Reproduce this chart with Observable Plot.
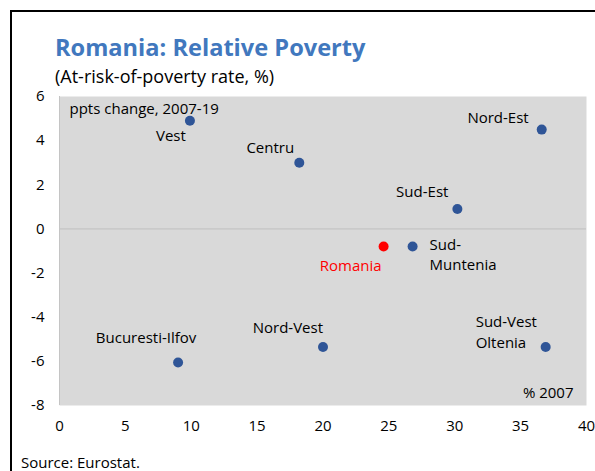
<!DOCTYPE html>
<html>
<head>
<meta charset="utf-8">
<script src="https://cdn.jsdelivr.net/npm/d3@7"></script>
<script src="https://cdn.jsdelivr.net/npm/@observablehq/plot@0.6"></script>
<style>
  html, body { margin: 0; padding: 0; background: #fff; }
  #wrap { position: relative; width: 595px; height: 471px; overflow: hidden; font-family: "Open Sans", sans-serif; }
  #wrap > div { line-height: 1; }
  #frameL { position: absolute; left: 10px; top: 10px; width: 2px; height: 461px; background: #000; }
  #frameT { position: absolute; left: 10px; top: 10px; width: 585px; height: 2px; background: #000; }
  #title { position: absolute; left: 55px; top: 36px; font-size: 23.6px; font-weight: bold; color: #4178be; white-space: nowrap; }
  #subtitle { position: absolute; left: 55px; top: 67px; font-size: 18px; color: #000; white-space: nowrap; }
  #chart { position: absolute; left: 0; top: 86px; }
  #source { position: absolute; left: 21px; top: 455px; font-size: 15px; color: #000; white-space: nowrap; }
</style>
</head>
<body>
<div id="wrap">
  <div id="frameL"></div>
  <div id="frameT"></div>
  <div id="title">Romania: Relative Poverty</div>
  <div id="subtitle">(At-risk-of-poverty rate, %)</div>
  <div id="chart"></div>
  <div id="source">Source: Eurostat.</div>
</div>
<script>
// Data
const regions = ["Vest", "Centru", "Nord-Est", "Sud-Est", "Sud-Muntenia", "Romania", "Nord-Vest", "Sud-Vest Oltenia", "Bucuresti-Ilfov"];
const labels = ["Vest", "Centru", "Nord-Est", "Sud-Est", "Sud-\nMuntenia", "Romania", "Nord-Vest", "Sud-Vest\nOltenia", "Bucuresti-Ilfov"];
const rate2007 = [9.9, 18.2, 36.6, 30.2, 26.8, 24.6, 20.0, 36.9, 9.0];
const change0719 = [4.9, 3.0, 4.5, 0.9, -0.8, -0.8, -5.35, -5.35, -6.05];
const xTicks = [0, 5, 10, 15, 20, 25, 30, 35, 40];
const yTicks = [-8, -6, -4, -2, 0, 2, 4, 6];
const yNote = "ppts change, 2007-19";
const xNote = "% 2007";

const points = regions.map((r, i) => ({region: r, label: labels[i], x: rate2007[i], y: change0719[i]}));

// label placement (style, not data)
const place = {
  "Vest": {dx: -19, dy: 14, textAnchor: "middle"},
  "Centru": {dx: -29, dy: -16, textAnchor: "middle"},
  "Nord-Est": {dx: -13, dy: -13, textAnchor: "end"},
  "Sud-Est": {dx: -9, dy: -19, textAnchor: "end"},
  "Sud-Muntenia": {dx: 17, dy: 7, textAnchor: "start"},
  "Romania": {dx: -2, dy: 18, textAnchor: "end"},
  "Nord-Vest": {dx: 0, dy: -21, textAnchor: "end"},
  "Sud-Vest Oltenia": {dx: -70, dy: -16, textAnchor: "start"},
  "Bucuresti-Ilfov": {dx: -32, dy: -26, textAnchor: "middle"}
};

const labelMarks = points.map(p => Plot.text([p], {
  x: "x", y: "y", text: "label",
  fill: p.region === "Romania" ? "#ff0000" : "#000",
  lineHeight: 1.37,
  ...place[p.region]
}));

const chart = Plot.plot({
  width: 595,
  height: 350,
  marginTop: 10,
  marginBottom: 31,
  marginLeft: 59,
  marginRight: 9,
  style: {fontFamily: "'Open Sans', sans-serif", fontSize: "15px", color: "#000", background: "transparent"},
  x: {domain: [0, 40], ticks: xTicks, tickSize: 0, tickPadding: 15, label: null, tickFormat: d => String(d)},
  y: {domain: [-8, 6], ticks: yTicks, tickSize: 0, tickPadding: 15, label: null, tickFormat: d => String(d)},
  marks: [
    Plot.frame({fill: "#d9d9d9"}),
    Plot.ruleY([0], {stroke: "#bfbfbf", strokeWidth: 1}),
    Plot.ruleX([0], {stroke: "#c4c4c4", strokeWidth: 1}),
    Plot.text([yNote], {frameAnchor: "top-left", text: d => d, dx: 10, dy: 7, textAnchor: "start"}),
    Plot.text([xNote], {frameAnchor: "bottom-right", text: d => d, dx: -13, dy: -8, textAnchor: "end"}),
    Plot.dot(points, {x: "x", y: "y", r: 5, fill: d => d.region === "Romania" ? "#ff0000" : "#2f5597", stroke: null}),
    ...labelMarks
  ]
});
document.getElementById("chart").appendChild(chart);
</script>
</body>
</html>
